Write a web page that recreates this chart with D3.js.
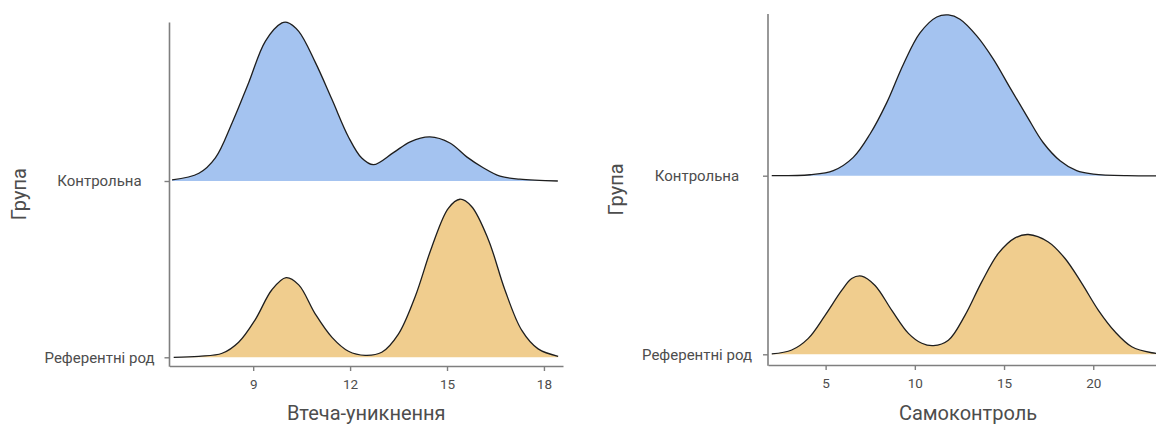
<!DOCTYPE html>
<html>
<head>
<meta charset="utf-8">
<script src="https://cdn.jsdelivr.net/npm/d3@7/dist/d3.min.js"></script>
<style>
  html, body { margin: 0; padding: 0; background: #fff; }
  svg { display: block; font-family: Roboto, "Noto Sans", sans-serif; }
</style>
</head>
<body>
<svg id="chart" width="1156" height="424"></svg>
<script>
// Groups, bottom ridge first
const groups = ["Референтні род", "Контрольна"];
const groupColors = ["#F0CD8E", "#A4C3F0"];

// Втеча-уникнення: estimated density curves
const avoidCtrlX = [6.49, 7.32, 7.83, 8.35, 8.86, 9.38, 9.89, 10.05, 10.41, 10.92, 11.44, 11.95, 12.36, 12.72, 13.34, 13.86, 14.47, 15.09, 15.61, 16.12, 16.64, 17.25, 18.43];
const avoidCtrlD = [0.0017, 0.0128, 0.0383, 0.0967, 0.163, 0.232, 0.262, 0.263, 0.248, 0.197, 0.135, 0.073, 0.038, 0.027, 0.047, 0.065, 0.073, 0.063, 0.040, 0.022, 0.008, 0.003, 0.0];
const avoidRefX = [6.54, 7.32, 8.04, 8.55, 9.07, 9.58, 10.02, 10.41, 10.92, 11.44, 11.95, 12.47, 12.98, 13.49, 14.01, 14.53, 15.04, 15.40, 15.76, 16.28, 16.79, 17.31, 17.82, 18.44];
const avoidRefD = [0.0, 0.0017, 0.0067, 0.025, 0.063, 0.112, 0.132, 0.12, 0.072, 0.033, 0.010, 0.0033, 0.0083, 0.038, 0.10, 0.183, 0.247, 0.262, 0.25, 0.195, 0.112, 0.045, 0.014, 0.0017];
const avoidTicks = [9, 12, 15, 18];

// Самоконтроль: estimated density curves
const selfCtrlX = [1.98, 4.13, 5.43, 6.55, 7.49, 8.42, 9.36, 10.29, 11.23, 11.88, 12.53, 13.47, 14.40, 15.34, 16.27, 17.20, 18.14, 19.07, 20.01, 21.88, 24.2];
const selfCtrlD = [0.0, 0.0008, 0.0042, 0.0153, 0.0348, 0.0608, 0.0931, 0.1192, 0.1325, 0.1342, 0.1306, 0.1167, 0.0973, 0.0733, 0.05, 0.0275, 0.0125, 0.0042, 0.0014, 0.0, 0.0];
const selfRefX = [1.98, 3.10, 4.03, 4.97, 5.90, 6.46, 7.02, 7.77, 8.71, 9.64, 10.39, 11.04, 11.88, 12.81, 13.75, 14.68, 15.62, 16.36, 17.48, 18.42, 19.36, 20.29, 21.22, 22.16, 23.28, 24.2];
const selfRefD = [0.0003, 0.0036, 0.0133, 0.0325, 0.0533, 0.0633, 0.0653, 0.0575, 0.0367, 0.0175, 0.0092, 0.0072, 0.0117, 0.0325, 0.0605, 0.0842, 0.0972, 0.1, 0.0938, 0.08, 0.0592, 0.0367, 0.0188, 0.0063, 0.0013, 0.0003];
const selfTicks = [5, 10, 15, 20];

const svg = d3.select("#chart");
const ridgeScale = 0.9;
const axisColor = "#7f7f7f";
const textColor = "#4d4d4d";

function drawPanel(cfg) {
  const g = svg.append("g");
  const x = d3.scaleLinear().domain(cfg.xDomain).range([cfg.left, cfg.right]);
  const y = d3.scalePoint().domain(groups).range([cfg.baseBottom, cfg.baseTop]);
  const spacing = cfg.baseBottom - cfg.baseTop;
  const maxD = d3.max(cfg.series, s => d3.max(s.d));
  const h = d3.scaleLinear().domain([0, maxD]).range([0, ridgeScale * spacing]);

  // ridges, top group first so lower ridges sit in front
  cfg.series.slice().reverse().forEach(s => {
    const base = y(s.group);
    const idx = d3.range(s.x.length);
    const top = i => Math.min(base, base - h(s.d[i]));
    const area = d3.area()
      .x(i => x(s.x[i]))
      .y0(base)
      .y1(top)
      .curve(d3.curveCatmullRom.alpha(0.5));
    const line = d3.line()
      .x(i => x(s.x[i]))
      .y(top)
      .curve(d3.curveCatmullRom.alpha(0.5));
    g.append("path").datum(idx).attr("d", area).attr("fill", s.color).attr("stroke", "none");
    g.append("path").datum(idx).attr("d", line).attr("fill", "none")
      .attr("stroke", "#1e1e1e").attr("stroke-width", 1.3);
  });

  // x axis
  const xAxis = g.append("g")
    .attr("transform", `translate(0,${cfg.axisY})`)
    .call(d3.axisBottom(x).tickValues(cfg.ticks).tickSize(5).tickSizeOuter(0).tickPadding(8));
  xAxis.select(".domain").attr("stroke", axisColor).attr("stroke-width", 1.6);
  xAxis.selectAll(".tick line").attr("stroke", axisColor).attr("stroke-width", 1.4);
  xAxis.selectAll(".tick text").attr("fill", textColor).attr("font-size", 13.5).attr("font-family", "Roboto");

  // y axis
  const yAxis = g.append("g")
    .attr("transform", `translate(${cfg.left},0)`)
    .call(d3.axisLeft(y).tickSize(5).tickPadding(6));
  yAxis.select(".domain").remove();
  yAxis.append("line")
    .attr("x1", 0).attr("x2", 0)
    .attr("y1", cfg.axisTop).attr("y2", cfg.axisY + 0.8)
    .attr("stroke", axisColor).attr("stroke-width", 1.6);
  yAxis.selectAll(".tick line").attr("stroke", axisColor).attr("stroke-width", 1.4);
  yAxis.selectAll(".tick text")
    .attr("fill", textColor).attr("font-size", 15).attr("font-family", "Roboto")
    .attr("text-anchor", "middle")
    .attr("x", cfg.labelX - cfg.left);

  // titles
  g.append("text")
    .attr("x", (cfg.left + cfg.right) / 2).attr("y", cfg.titleY)
    .attr("text-anchor", "middle").attr("fill", textColor)
    .attr("font-size", 20).text(cfg.xTitle);
  g.append("text")
    .attr("transform", `translate(${cfg.yTitleX},${(cfg.axisTop + cfg.axisY) / 2}) rotate(-90)`)
    .attr("text-anchor", "middle").attr("dy", "0.35em").attr("fill", textColor)
    .attr("font-size", 20).text("Група");
}

drawPanel({
  xDomain: [6.41, 18.59], left: 169.5, right: 563,
  baseTop: 181, baseBottom: 357.3, axisY: 366, axisTop: 22.5,
  labelX: 99.5, yTitleX: 19, titleY: 419.5,
  ticks: avoidTicks, xTitle: "Втеча-уникнення",
  series: [
    { group: groups[0], x: avoidRefX, d: avoidRefD, color: groupColors[0] },
    { group: groups[1], x: avoidCtrlX, d: avoidCtrlD, color: groupColors[1] }
  ]
});

drawPanel({
  xDomain: [1.77, 24.19], left: 768, right: 1168,
  baseTop: 175.7, baseBottom: 354.3, axisY: 365, axisTop: 14,
  labelX: 697, yTitleX: 616, titleY: 419.5,
  ticks: selfTicks, xTitle: "Самоконтроль",
  series: [
    { group: groups[0], x: selfRefX, d: selfRefD, color: groupColors[0] },
    { group: groups[1], x: selfCtrlX, d: selfCtrlD, color: groupColors[1] }
  ]
});
</script>
</body>
</html>
